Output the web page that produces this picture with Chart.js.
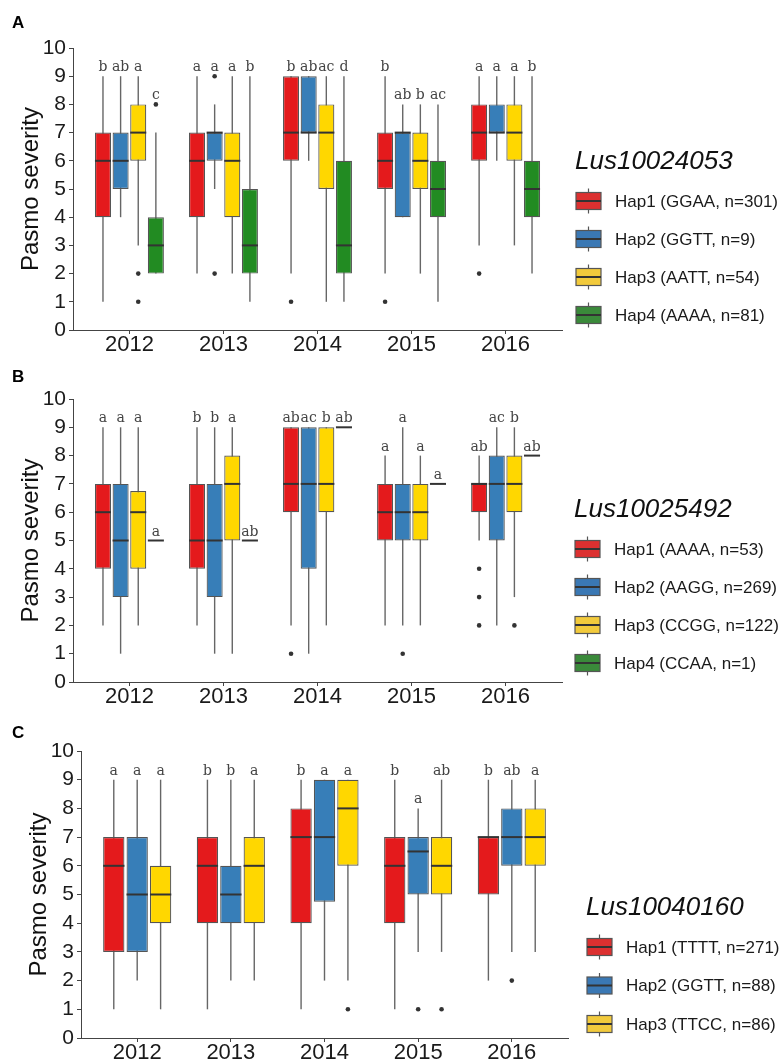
<!DOCTYPE html>
<html>
<head>
<meta charset="utf-8">
<script src="https://cdn.jsdelivr.net/npm/chart.js@4"></script>
<style>
  html, body { margin: 0; padding: 0; background: #fff; }
  body { width: 779px; height: 1060px; position: relative; overflow: hidden; }
  .panel { position: absolute; left: 0; width: 779px; height: 360px; }
</style>
</head>
<body>
<div class="panel" style="top:0px"><canvas id="panelA"></canvas></div>
<div class="panel" style="top:350px"><canvas id="panelB"></canvas></div>
<div class="panel" style="top:700px"><canvas id="panelC"></canvas></div>
<script>
// ---- shared ----
const YEARS = ['2012', '2013', '2014', '2015', '2016'];
const Y_TITLE = 'Pasmo severity';

// ---- panel A : Lus10024053 (rows = haplotypes, columns = years) ----
const GENE_A = 'Lus10024053';
const HAPS_A = ['Hap1 (GGAA, n=301)', 'Hap2 (GGTT, n=9)', 'Hap3 (AATT, n=54)', 'Hap4 (AAAA, n=81)'];
const LOW_A  = [[1, 2, 2, 2, 3], [4, 5, 6, 4, 6], [3, 2, 1, 2, 3], [2, 1, 1, 1, 2]];
const Q1_A   = [[4, 4, 6, 5, 6], [5, 6, 7, 4, 7], [6, 4, 5, 5, 6], [2, 2, 2, 4, 4]];
const MED_A  = [[6, 6, 7, 6, 7], [6, 7, 7, 7, 7], [7, 6, 7, 6, 7], [3, 3, 3, 5, 5]];
const Q3_A   = [[7, 7, 9, 7, 8], [7, 7, 9, 7, 8], [8, 7, 8, 7, 8], [4, 5, 6, 6, 6]];
const HIGH_A = [[9, 9, 9, 9, 9], [9, 8, 9, 8, 9], [9, 9, 9, 8, 9], [7, 9, 9, 8, 9]];
const OUT_A  = [[[], [], [1], [1], [2]], [[], [9, 2], [], [], []], [[2, 1], [], [], [], []], [[8], [], [], [], []]];
const SIG_A  = [['b', 'a', 'b', 'b', 'a'], ['ab', 'a', 'ab', 'ab', 'a'], ['a', 'a', 'ac', 'b', 'a'], ['c', 'b', 'd', 'ac', 'b']];

// ---- panel B : Lus10025492 ----
const GENE_B = 'Lus10025492';
const HAPS_B = ['Hap1 (AAAA, n=53)', 'Hap2 (AAGG, n=269)', 'Hap3 (CCGG, n=122)', 'Hap4 (CCAA, n=1)'];
const LOW_B  = [[2, 2, 2, 2, 5], [1, 1, 1, 2, 2], [2, 1, 2, 2, 3], [5, 5, 9, 7, 8]];
const Q1_B   = [[4, 4, 6, 5, 6], [3, 3, 4, 5, 5], [4, 5, 6, 5, 6], [5, 5, 9, 7, 8]];
const MED_B  = [[6, 5, 7, 6, 7], [5, 5, 7, 6, 7], [6, 7, 7, 6, 7], [5, 5, 9, 7, 8]];
const Q3_B   = [[7, 7, 9, 7, 7], [7, 7, 9, 7, 8], [6.75, 8, 9, 7, 8], [5, 5, 9, 7, 8]];
const HIGH_B = [[9, 9, 9, 8, 8], [9, 9, 9, 9, 9], [9, 9, 9, 8, 9], [5, 5, 9, 7, 8]];
const OUT_B  = [[[], [], [1], [], [4, 3, 2]], [[], [], [], [1], []], [[], [], [], [], [2]], [[], [], [], [], []]];
const SIG_B  = [['a', 'b', 'ab', 'a', 'ab'], ['a', 'b', 'ac', 'a', 'ac'], ['a', 'a', 'b', 'a', 'b'], ['a', 'ab', 'ab', 'a', 'ab']];

// ---- panel C : Lus10040160 ----
const GENE_C = 'Lus10040160';
const HAPS_C = ['Hap1 (TTTT, n=271)', 'Hap2 (GGTT, n=88)', 'Hap3 (TTCC, n=86)'];
const LOW_C  = [[1, 1, 1, 1, 2], [2, 2, 2, 3, 3], [1, 2, 2, 3, 3]];
const Q1_C   = [[3, 4, 4, 4, 5], [3, 4, 4.75, 5, 6], [4, 4, 6, 5, 6]];
const MED_C  = [[6, 6, 7, 6, 7], [5, 5, 7, 6.5, 7], [5, 6, 8, 6, 7]];
const Q3_C   = [[7, 7, 8, 7, 7], [7, 6, 9, 7, 8], [6, 7, 9, 7, 8]];
const HIGH_C = [[9, 9, 9, 9, 9], [9, 9, 9, 8, 9], [9, 9, 9, 9, 9]];
const OUT_C  = [[[], [], [], [], []], [[], [], [], [1], [2]], [[], [], [1], [1], []]];
const SIG_C  = [['a', 'b', 'b', 'b', 'b'], ['a', 'b', 'a', 'a', 'ab'], ['a', 'a', 'a', 'ab', 'a']];

// ---- styling ----
const BOX_FILL = ['#e41a1c', '#377eb8', '#ffd700', '#228b22'];
const KEY_FILL = ['#dc3030', '#3a78b4', '#f2ca3c', '#3a8a3a'];
const SANS = '"Liberation Sans", Arial, sans-serif';
Chart.defaults.font.family = SANS;
Chart.defaults.color = '#1a1a1a';

// whiskers, medians, outliers, significance letters and the key
const boxParts = {
  id: 'boxParts',
  beforeDatasetsDraw(chart) {
    const ctx = chart.ctx, ys = chart.scales.y;
    ctx.save();
    ctx.strokeStyle = '#666';
    ctx.lineWidth = 1.4;
    chart.data.datasets.forEach((ds, d) => {
      chart.getDatasetMeta(d).data.forEach((bar, i) => {
        ctx.beginPath();
        ctx.moveTo(bar.x, ys.getPixelForValue(ds.low[i]));
        ctx.lineTo(bar.x, ys.getPixelForValue(ds.high[i]));
        ctx.stroke();
      });
    });
    ctx.restore();
  },
  afterDatasetsDraw(chart) {
    const ctx = chart.ctx, ys = chart.scales.y;
    ctx.save();
    chart.data.datasets.forEach((ds, d) => {
      chart.getDatasetMeta(d).data.forEach((bar, i) => {
        const half = bar.width / 2;
        // median
        const my = ys.getPixelForValue(ds.med[i]);
        ctx.strokeStyle = '#333';
        ctx.lineWidth = 2;
        ctx.beginPath();
        ctx.moveTo(bar.x - half, my);
        ctx.lineTo(bar.x + half, my);
        ctx.stroke();
        // outliers
        ctx.fillStyle = '#333';
        ds.out[i].forEach(v => {
          ctx.beginPath();
          ctx.arc(bar.x, ys.getPixelForValue(v), 2.3, 0, Math.PI * 2);
          ctx.fill();
        });
        // letters above the highest mark
        const top = Math.max(ds.high[i], ...ds.out[i]);
        ctx.font = '14px "DejaVu Serif", serif';
        ctx.fillStyle = '#444';
        ctx.textAlign = 'center';
        ctx.textBaseline = 'alphabetic';
        ctx.fillText(ds.sig[i], bar.x, ys.getPixelForValue(top) - 5);
      });
    });
    ctx.restore();
  },
  afterDraw(chart, args, opts) {
    const ctx = chart.ctx;
    ctx.save();
    // panel tag
    ctx.font = 'bold 17px ' + SANS;
    ctx.fillStyle = '#000';
    ctx.textAlign = 'left';
    ctx.textBaseline = 'alphabetic';
    ctx.fillText(opts.tag, 12, opts.tagY);
    // key title
    const k = opts.key;
    ctx.font = 'italic 26px ' + SANS;
    ctx.fillStyle = '#111';
    ctx.textBaseline = 'middle';
    ctx.fillText(opts.gene, k.x - 1, k.titleY);
    // key rows
    chart.data.datasets.forEach((ds, d) => {
      const cy = k.firstY + d * k.step, w = 25, h = 17, cx = k.x + w / 2;
      ctx.strokeStyle = '#555';
      ctx.lineWidth = 1.2;
      ctx.beginPath();
      ctx.moveTo(cx, cy - h / 2 - 4);
      ctx.lineTo(cx, cy + h / 2 + 4);
      ctx.stroke();
      ctx.fillStyle = KEY_FILL[d];
      ctx.fillRect(k.x, cy - h / 2, w, h);
      ctx.strokeStyle = '#555';
      ctx.strokeRect(k.x, cy - h / 2, w, h);
      ctx.strokeStyle = '#333';
      ctx.lineWidth = 2;
      ctx.beginPath();
      ctx.moveTo(k.x, cy);
      ctx.lineTo(k.x + w, cy);
      ctx.stroke();
      ctx.font = '17px ' + SANS;
      ctx.fillStyle = '#1a1a1a';
      ctx.fillText(ds.label, k.x + 39, cy + 1);
    });
    ctx.restore();
  }
};

function boxChart(id, p) {
  const datasets = p.haps.map((name, h) => ({
    label: name,
    data: YEARS.map((yr, i) => ({ x: i + 1, y: [p.q1[h][i], p.q3[h][i]] })),
    low: p.low[h], med: p.med[h], high: p.high[h], out: p.out[h], sig: p.sig[h],
    backgroundColor: BOX_FILL[h],
    borderColor: '#555',
    borderWidth: 1.2,
    borderSkipped: false,
    categoryPercentage: 0.75,
    barPercentage: 0.91
  }));
  return new Chart(document.getElementById(id), {
    type: 'bar',
    data: { datasets },
    plugins: [boxParts],
    options: {
      responsive: true,
      maintainAspectRatio: false,
      animation: false,
      layout: { padding: { top: p.top, right: p.right, left: 0, bottom: 0 } },
      plugins: {
        legend: { display: false },
        tooltip: { enabled: false },
        boxParts: { tag: p.tag, tagY: p.tagY, gene: p.gene, key: p.key }
      },
      scales: {
        x: {
          type: 'linear',
          min: 0.4,
          max: 5.6,
          offset: false,
          afterBuildTicks: s => { s.ticks = YEARS.map((yr, i) => ({ value: i + 1 })); },
          afterFit: s => { s.height = p.xh; },
          ticks: {
            callback: v => YEARS[v - 1],
            font: { size: 22, lineHeight: 1 },
            padding: 0,
            color: '#1a1a1a',
            maxRotation: 0
          },
          grid: { offset: false, drawOnChartArea: false, tickLength: 4, color: '#444' },
          border: { display: true, color: '#444', width: 1 }
        },
        y: {
          min: 0,
          max: 10,
          afterFit: s => { s.width = p.yw; },
          ticks: { stepSize: 1, font: { size: 21 }, padding: 3, color: '#1a1a1a' },
          grid: { drawOnChartArea: false, tickLength: 4, color: '#444' },
          border: { display: true, color: '#444', width: 1 },
          title: {
            display: true,
            text: Y_TITLE,
            font: { size: 24, lineHeight: 1 },
            color: '#111',
            padding: { top: p.titlePad, bottom: 0 }
          }
        }
      }
    }
  });
}

boxChart('panelA', {
  haps: HAPS_A, low: LOW_A, q1: Q1_A, med: MED_A, q3: Q3_A, high: HIGH_A, out: OUT_A, sig: SIG_A,
  gene: GENE_A, tag: 'A', tagY: 28,
  top: 48, right: 217, xh: 30, yw: 73, titlePad: 19,
  key: { x: 576, titleY: 162, firstY: 201, step: 38 }
});
boxChart('panelB', {
  haps: HAPS_B, low: LOW_B, q1: Q1_B, med: MED_B, q3: Q3_B, high: HIGH_B, out: OUT_B, sig: SIG_B,
  gene: GENE_B, tag: 'B', tagY: 32,
  top: 49, right: 217, xh: 28, yw: 73, titlePad: 19,
  key: { x: 575, titleY: 160, firstY: 199, step: 38 }
});
boxChart('panelC', {
  haps: HAPS_C, low: LOW_C, q1: Q1_C, med: MED_C, q3: Q3_C, high: HIGH_C, out: OUT_C, sig: SIG_C,
  gene: GENE_C, tag: 'C', tagY: 38,
  top: 51, right: 211, xh: 22, yw: 81, titlePad: 27,
  key: { x: 587, titleY: 208, firstY: 247, step: 38.5 }
});
</script>
</body>
</html>
